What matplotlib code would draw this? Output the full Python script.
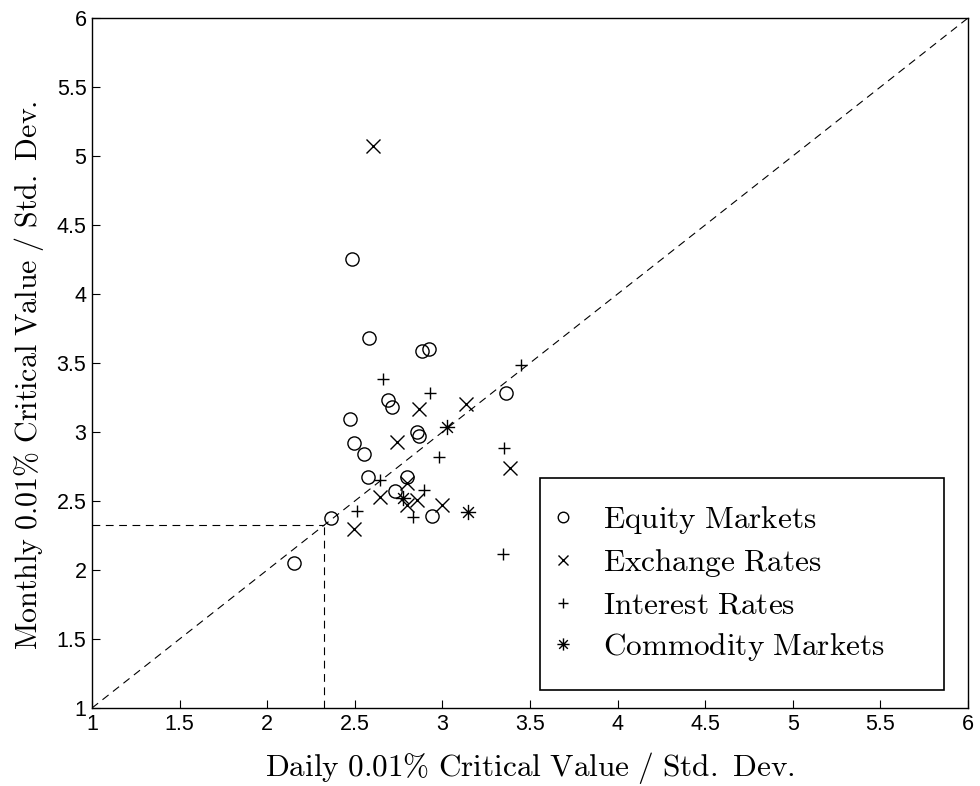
import numpy as np
import matplotlib
matplotlib.use('Agg')
import matplotlib.pyplot as plt
from matplotlib.path import Path
from matplotlib.patches import Rectangle

# values
equity_x = [2.153, 2.364, 2.482, 2.583, 2.882, 2.925, 2.691, 2.714, 2.473, 2.495,
            2.553, 2.853, 2.864, 3.363, 2.573, 2.800, 2.729, 2.942]
equity_y = [2.049, 2.374, 4.250, 3.683, 3.589, 3.599, 3.232, 3.179, 3.094, 2.923,
            2.838, 3.002, 2.971, 3.285, 2.672, 2.676, 2.575, 2.391]

fx_x = [2.602, 2.868, 3.135, 2.743, 3.386, 2.644, 2.796, 2.796, 2.857, 2.996, 2.495]
fx_y = [5.072, 3.170, 3.200, 2.930, 2.737, 2.527, 2.471, 2.628, 2.507, 2.471, 2.295]

rates_x = [2.659, 2.929, 3.447, 3.352, 3.344, 2.980, 2.644, 2.895, 2.834, 2.514]
rates_y = [3.382, 3.280, 3.486, 2.882, 2.116, 2.817, 2.652, 2.580, 2.386, 2.428]

comm_x = [2.773, 3.024, 3.148]
comm_y = [2.520, 3.033, 2.422]

ref_level = 2.326
tick_vals = [1, 1.5, 2, 2.5, 3, 3.5, 4, 4.5, 5, 5.5, 6]
tick_text = ['1', '1.5', '2', '2.5', '3', '3.5', '4', '4.5', '5', '5.5', '6']

plt.rcParams['mathtext.fontset'] = 'cm'

# matlab style asterisk: plus and cross on top of each other
d = 0.7071
star = Path([(-1, 0), (1, 0), (0, -1), (0, 1), (-d, -d), (d, d), (-d, d), (d, -d)],
            [Path.MOVETO, Path.LINETO] * 4)

fig = plt.figure(figsize=(9.8, 7.86), dpi=100)
ax = fig.add_axes([92 / 980, 1 - 708 / 786, 876 / 980, 690 / 786])

dash = dict(color='black', lw=0.8, dashes=(7, 5))
ax.plot([1, 6], [1, 6], **dash)
ax.plot([1, ref_level], [ref_level, ref_level], **dash)
ax.plot([ref_level, ref_level], [1, ref_level], **dash)

ax.plot(equity_x, equity_y, 'o', ms=9.5, mfc='none', mec='black', mew=1.0, ls='none',
        label=r'$\mathrm{Equity\ Markets}$')
ax.plot(fx_x, fx_y, 'x', ms=9.5, mec='black', mew=1.0, ls='none',
        label=r'$\mathrm{Exchange\ Rates}$')
ax.plot(rates_x, rates_y, '+', ms=9, mec='black', mew=1.0, ls='none',
        label=r'$\mathrm{Interest\ Rates}$')
ax.plot(comm_x, comm_y, marker=star, ms=11, mfc='none', mec='black', mew=1.0, ls='none',
        label=r'$\mathrm{Commodity\ Markets}$')

ax.set_xlim(1, 6)
ax.set_ylim(1, 6)
ax.set_xticks(tick_vals)
ax.set_yticks(tick_vals)
ax.set_xticklabels(tick_text)
ax.set_yticklabels(tick_text)
ax.tick_params(direction='in', length=6, labelsize=15.5, pad=4)
for lab in ax.get_xticklabels() + ax.get_yticklabels():
    lab.set_fontfamily('Liberation Sans')
for s in ax.spines.values():
    s.set_linewidth(1.0)

ax.set_xlabel(r'$\mathrm{Daily\ 0.01\%\ Critical\ Value\ /\ Std.\ Dev.}$', fontsize=22.5, labelpad=11)
ax.set_ylabel(r'$\mathrm{Monthly\ 0.01\%\ Critical\ Value\ /\ Std.\ Dev.}$', fontsize=21.6)
ax.yaxis.set_label_coords(-0.053, 0.483)

# legend box is wider than its contents, so draw the frame separately
ax.add_patch(Rectangle((0.5114, 0.0261), 0.4612, 0.3072, transform=ax.transAxes,
                       fill=False, edgecolor='black', lw=1.2, zorder=5))
leg = ax.legend(loc='center left', bbox_to_anchor=(0.5268, 0.1804), fontsize=22.5,
                markerscale=0.8, frameon=False, handlelength=0.6, handletextpad=0.98,
                borderpad=0, labelspacing=0.36, borderaxespad=0)

fig.savefig('out.png', dpi=100)
